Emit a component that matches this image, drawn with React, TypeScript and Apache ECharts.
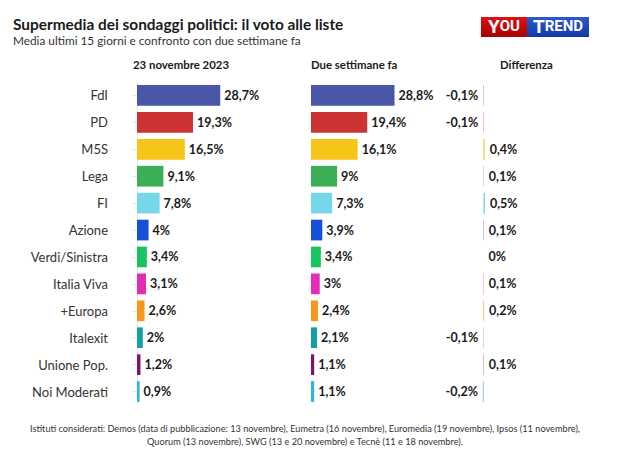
import React, { useEffect, useRef } from "react";
import * as echarts from "echarts";

const categories = ["FdI", "PD", "M5S", "Lega", "FI", "Azione", "Verdi/Sinistra", "Italia Viva", "+Europa", "Italexit", "Unione Pop.", "Noi Moderati"];
const current = [28.7, 19.3, 16.5, 9.1, 7.8, 4, 3.4, 3.1, 2.6, 2, 1.2, 0.9];
const previous = [28.8, 19.4, 16.1, 9, 7.3, 3.9, 3.4, 3, 2.4, 2.1, 1.1, 1.1];
const difference = [-0.1, -0.1, 0.4, 0.1, 0.5, 0.1, 0, 0.1, 0.2, -0.1, 0.1, -0.2];
const partyColors = ["#4a56a8", "#cc3333", "#f6c51a", "#3cae55", "#76d7ea", "#164fd8", "#18c462", "#e42db4", "#f7981e", "#16a09f", "#7b1668", "#2ab6df"];
const headers = ["23 novembre 2023", "Due settimane fa", "Differenza"];
const titleText = "Supermedia dei sondaggi politici: il voto alle liste";
const subtitleText = "Media ultimi 15 giorni e confronto con due settimane fa";
const footerLines = [
  "Istituti considerati: Demos (data di pubblicazione: 13 novembre), Eumetra (16 novembre), Euromedia (19 novembre), Ipsos (11 novembre),",
  "Quorum (13 novembre), SWG (13 e 20 novembre) e Tecnè (11 e 18 novembre).",
];

const FONT = "Lato, 'Noto Sans', sans-serif";
const fmt = (v: number) => String(v).replace(".", ",") + "%";

export default function App() {
  const ref = useRef<HTMLDivElement>(null);
  useEffect(() => {
    if (!ref.current) return;
    const chart = echarts.init(ref.current, null, { renderer: "svg" });
    const top = 82;
    const height = 323;
    const valueLabel = {
      show: true,
      fontFamily: FONT,
      fontWeight: "bold",
      fontSize: 12.5,
      color: "#1a1a1a",
      distance: 4,
      formatter: (p: any) => fmt(p.value),
    };
    const mkData = (arr: number[]) =>
      arr.map((v, i) => ({ value: v, itemStyle: { color: partyColors[i] } }));
    const hiddenCat = (gridIndex: number) => ({
      type: "category",
      gridIndex,
      data: categories,
      inverse: true,
      show: false,
    });
    const headerStyle = { fontFamily: FONT, fontWeight: "bold", fontSize: 11.4, fill: "#1a1a1a", verticalAlign: "middle" };
    const logoRich = {
      b: { fontFamily: "Roboto, sans-serif", fontWeight: "bold", fontSize: 19, fill: "#ffffff", color: "#ffffff" },
      s: { fontFamily: "Roboto, sans-serif", fontWeight: "bold", fontSize: 15, fill: "#ffffff", color: "#ffffff" },
    };
    const option: any = {
      animation: false,
      backgroundColor: "#ffffff",
      grid: [
        { left: 137, top, width: 87, height },
        { left: 311, top, width: 87, height },
        { left: 469, top, width: 29, height },
      ],
      xAxis: [
        { type: "value", gridIndex: 0, min: 0, max: 30, show: false },
        { type: "value", gridIndex: 1, min: 0, max: 30, show: false },
        { type: "value", gridIndex: 2, min: -5, max: 5, show: false },
      ],
      yAxis: [
        {
          type: "category",
          gridIndex: 0,
          data: categories,
          inverse: true,
          offset: 14,
          axisLine: { show: true, lineStyle: { color: "#e6e6e6", width: 1 } },
          axisTick: { show: true, alignWithLabel: true, length: 5, lineStyle: { color: "#e6e6e6" } },
          axisLabel: { fontFamily: FONT, fontSize: 13, color: "#333333", margin: 15 },
        },
        hiddenCat(1),
        hiddenCat(2),
      ],
      series: [
        {
          type: "bar",
          xAxisIndex: 0,
          yAxisIndex: 0,
          data: mkData(current),
          barCategoryGap: "23%",
          label: { ...valueLabel, position: "right" },
        },
        {
          type: "bar",
          xAxisIndex: 1,
          yAxisIndex: 1,
          data: mkData(previous),
          barCategoryGap: "23%",
          label: { ...valueLabel, position: "right" },
        },
        {
          type: "bar",
          xAxisIndex: 2,
          yAxisIndex: 2,
          data: mkData(difference),
          barCategoryGap: "23%",
          label: { ...valueLabel, position: "outside", distance: 5 },
        },
      ],
      graphic: [
        {
          type: "text",
          x: 13,
          y: 23.5,
          style: { text: titleText, fontFamily: FONT, fontWeight: "bold", fontSize: 15.4, fill: "#1a1a1a", verticalAlign: "middle" },
        },
        {
          type: "text",
          x: 13,
          y: 40.5,
          style: { text: subtitleText, fontFamily: FONT, fontSize: 11.8, fill: "#333333", verticalAlign: "middle" },
        },
        { type: "text", x: 133, y: 64.5, style: { text: headers[0], ...headerStyle } },
        { type: "text", x: 311, y: 64.5, style: { text: headers[1], ...headerStyle } },
        { type: "text", x: 500, y: 64.5, style: { text: headers[2], ...headerStyle } },
        {
          type: "group",
          x: 481,
          y: 17,
          children: [
            {
              type: "rect",
              shape: { x: 0, y: 0, width: 46, height: 20 },
              style: {
                fill: new echarts.graphic.LinearGradient(0, 0, 0, 1, [
                  { offset: 0, color: "#e01010" },
                  { offset: 1, color: "#a80000" },
                ]),
              },
            },
            {
              type: "rect",
              shape: { x: 46, y: 0, width: 62, height: 20 },
              style: {
                fill: new echarts.graphic.LinearGradient(0, 0, 0, 1, [
                  { offset: 0, color: "#2a5ad0" },
                  { offset: 1, color: "#1238a8" },
                ]),
              },
            },
            {
              type: "text",
              x: 23,
              y: 18.5,
              style: { text: "{b|Y}{s|OU}", fill: "#ffffff", align: "center", verticalAlign: "bottom", rich: logoRich },
            },
            {
              type: "text",
              x: 77,
              y: 18.5,
              style: { text: "{b|T}{s|REND}", fill: "#ffffff", align: "center", verticalAlign: "bottom", rich: logoRich },
            },
          ],
        },
        {
          type: "text",
          x: 305,
          y: 428,
          style: { text: footerLines[0], fontFamily: FONT, fontSize: 9.2, fill: "#333333", align: "center", verticalAlign: "middle" },
        },
        {
          type: "text",
          x: 305,
          y: 441,
          style: { text: footerLines[1], fontFamily: FONT, fontSize: 9.2, fill: "#333333", align: "center", verticalAlign: "middle" },
        },
      ],
    };
    chart.setOption(option);
    return () => chart.dispose();
  }, []);
  return <div ref={ref} style={{ position: "absolute", left: 0, top: 0, width: 640, height: 456 }} />;
}
